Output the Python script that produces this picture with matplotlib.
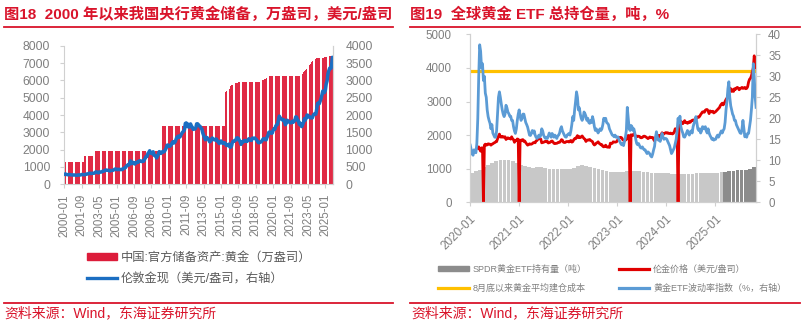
import numpy as np
import pandas as pd
import matplotlib
matplotlib.use("Agg")
import matplotlib.pyplot as plt
from matplotlib.patches import Patch
from matplotlib.lines import Line2D

plt.rcParams['font.family'] = ['Liberation Sans', 'Noto Sans CJK SC', 'DejaVu Sans']
plt.rcParams['axes.unicode_minus'] = False

nan = np.nan
RED = '#D9142B'
GRAY_TXT = '#7F7F7F'
SPINE = '#D0D0D0'

# ---------------------------------------------------------------------------
# 图18 data: monthly, 2000-01 .. 2025-09
# China official gold reserves (万盎司), as (level, number of months)
reserve_runs = [
    (1267, 23), (1608, 12), (1929, 76), (3389, 74),
    (5332, 1), (5393, 1), (5412, 1), (5445, 1), (5460, 1), (5482, 1), (5666, 1),
    (5719, 1), (5737, 1), (5782, 1), (5813, 1), (5862, 4), (5924, 1),
    (5924, 26),
    (5956, 1), (5994, 1), (6026, 1), (6062, 1), (6092, 1), (6111, 1), (6161, 1),
    (6194, 1), (6226, 1),
    (6264, 38),
    (6367, 1), (6464, 1), (6512, 1), (6592, 1), (6650, 1), (6676, 1), (6727, 1),
    (6795, 1), (6869, 1), (6962, 1), (7046, 1), (7120, 1), (7158, 1), (7187, 1),
    (7219, 1), (7258, 1), (7274, 1), (7280, 1),
    (7280, 6),
    (7296, 1), (7329, 1), (7345, 1), (7361, 1), (7370, 1), (7377, 1), (7383, 1),
    (7390, 1), (7396, 1), (7402, 1), (7406, 1),
]

# London spot gold, USD/oz, monthly
gold_monthly = [
    284, 300, 286, 280, 275, 285, 282, 274, 273, 270, 266, 272,
    266, 262, 263, 261, 272, 270, 268, 273, 283, 283, 276, 275,
    282, 296, 294, 302, 314, 322, 314, 310, 319, 317, 319, 333,
    357, 359, 340, 328, 355, 356, 351, 360, 379, 379, 389, 407,
    414, 405, 406, 404, 384, 392, 398, 400, 406, 420, 439, 442,
    424, 423, 434, 429, 422, 430, 424, 438, 456, 470, 476, 510,
    549, 555, 557, 610, 676, 596, 633, 632, 598, 586, 628, 629,
    631, 665, 655, 679, 667, 655, 665, 665, 712, 754, 806, 803,
    889, 922, 968, 909, 889, 889, 939, 839, 829, 806, 760, 816,
    858, 943, 924, 890, 928, 946, 934, 949, 996, 1043, 1127, 1135,
    1118, 1095, 1114, 1148, 1205, 1232, 1193, 1215, 1271, 1343, 1370, 1391,
    1357, 1372, 1424, 1474, 1511, 1529, 1573, 1756, 1772, 1666, 1738, 1652,
    1656, 1743, 1675, 1650, 1585, 1596, 1594, 1626, 1745, 1747, 1722, 1685,
    1671, 1627, 1593, 1487, 1414, 1343, 1286, 1352, 1349, 1316, 1275, 1225,
    1244, 1300, 1336, 1299, 1288, 1279, 1311, 1296, 1238, 1222, 1176, 1202,
    1251, 1227, 1179, 1198, 1199, 1181, 1128, 1118, 1125, 1159, 1086, 1068,
    1097, 1200, 1246, 1242, 1261, 1276, 1337, 1341, 1326, 1266, 1238, 1152,
    1192, 1234, 1231, 1266, 1246, 1260, 1237, 1283, 1315, 1279, 1282, 1265,
    1331, 1331, 1325, 1335, 1303, 1282, 1238, 1202, 1198, 1215, 1221, 1250,
    1292, 1320, 1301, 1286, 1284, 1359, 1413, 1500, 1511, 1495, 1471, 1480,
    1560, 1597, 1592, 1683, 1716, 1732, 1846, 1968, 1922, 1900, 1866, 1858,
    1867, 1808, 1718, 1760, 1850, 1834, 1807, 1785, 1775, 1777, 1821, 1790,
    1817, 1856, 1948, 1937, 1849, 1837, 1732, 1765, 1681, 1665, 1726, 1798,
    1898, 1855, 1912, 2000, 1992, 1943, 1951, 1918, 1916, 1916, 1985, 2026,
    2033, 2024, 2159, 2332, 2351, 2326, 2398, 2470, 2571, 2690, 2651, 2648,
    2709, 2895, 2984, 3194, 3279, 3352, 3340, 3368, 3665,
]

left_ticklabels = ['2000-01', '2001-09', '2003-05', '2005-01', '2006-09', '2008-05',
                   '2010-01', '2011-09', '2013-05', '2015-01', '2016-09', '2018-05',
                   '2020-01', '2021-09', '2023-05', '2025-01']

# ---------------------------------------------------------------------------
# 图19 data: weekly (Fridays) 2020-01-03 .. 2025-10-31
gold_weekly = [
    # 2020
    nan, nan, nan, nan, nan, nan, nan, nan, 1610, 1650, 1580, 1520, 1620,
    1620, 0, 1700, 1730, 1700, 1710, 1740, 1735, 1728, 1700, 1730, 1740, 1765,
    1775, 1800, 1805, 1890, 1970, 2030, 1945, 1940, 1965, 1935, 1945, 1950, 1870,
    1895, 1920, 1900, 1905, 1880, 1950, 1890, 1865, 1785, 1840, 1835, 1885, 1875,
    # 2021
    0, 1850, 1830, 1860, 1865, 1810, 1825, 1775, 1735, 1700, 1720, 1740, 1730,
    1730, 1745, 1775, 1780, 1770, 1830, 1840, 1880, 1900, 1890, 1880, 1770, 1780,
    1785, 1805, 1815, 1800, 1815, 1765, 1775, 1785, 1815, 1825, 1795, 1755, 1745,
    1755, 1755, 1770, 1790, 1785, 1815, 1865, 1850, 1790, 1780, 1780, 1805, 1810, 1805,
    # 2022
    1795, 1820, 1840, 1790, 1805, 1860, 1895, 1890, 1940, 1985, 1925, 1955,
    1925, 1945, 1975, 1935, 1895, 1880, 1810, 1845, 1855, 1850, 1870, 1840, 1825,
    1805, 1740, 1705, 1725, 1760, 1775, 1800, 1755, 1740, 1710, 1715, 1665, 1650, 1665,
    1700, 1650, 1640, 1645, 1635, 1760, 1750, 1755, 1800, 1795, 1790, 1795, 1810,
    # 2023
    1870, 1910, 1930, 1935, 1920, 1870, 1845, 1820, 1850, 1870, 1925, 1990, 1975,
    0, 2010, 1995, 1990, 2040, 2020, 1965, 1950, 1970, 1965, 1960, 1925, 1920,
    1930, 1960, 1970, 1960, 1940, 1920, 1895, 1915, 1945, 1925, 1930, 1930, 1870,
    1825, 1880, 1980, 1990, 1990, 1950, 1990, 2010, 2070, 2015, 2040, 2060, 2075,
    # 2024
    2060, 2070, 2050, 2045, 2060, 2045, 2035, 2050, 2100, 2190, 2180, 2185, 0,
    2320, 2400, 2410, 2360, 2340, 2390, 2430, 2370, 2380, 2350, 2370, 2400, 2380,
    2420, 2440, 2450, 2420, 2470, 2470, 2520, 2540, 2530, 2560, 2610, 2650, 2690,
    2690, 2680, 2740, 2760, 2760, 2720, 2640, 2720, 2700, 2690, 2710, 2660, 2680,
    # 2025
    2700, 2730, 2760, 2790, 2820, 2880, 2920, 2950, 2900, 2940, 3000, 3060, 3100,
    3150, 3300, 3400, 3380, 3300, 3350, 3300, 3380, 3360, 3400, 3420, 3400, 3350,
    3380, 3400, 3420, 3390, 3400, 3420, 3380, 3390, 3440, 3580, 3660, 3690, 3760,
    3880, 4000, 4360, 4150, 4000,
]

etf_vol_weekly = [
    # 2020
    13.6, 12.5, 11.5, 11.2, 12.5, 12.0, 11.8, 14.0, 20.0, 30.0, 37.5, 36.0, 32.0,
    33.0, 29.0, 30.0, 26.0, 25.0, 22.0, 20.4, 19.5, 18.8, 17.5, 18.5, 16.5, 16.0,
    15.5, 15.5, 17.0, 21.0, 25.0, 26.3, 25.0, 23.4, 22.0, 21.0, 20.4, 21.0, 23.1,
    22.5, 21.5, 21.1, 20.5, 20.5, 19.5, 19.5, 18.0, 17.0, 16.4, 17.5, 19.5, 21.0,
    # 2021
    22.0, 20.5, 19.5, 20.0, 21.0, 21.0, 20.0, 19.0, 18.5, 17.9, 17.0, 16.0, 15.9,
    16.5, 17.1, 16.5, 17.0, 16.0, 15.5, 15.2, 15.5, 16.0, 15.5, 16.0, 17.5, 17.0,
    16.0, 15.5, 15.2, 15.5, 15.2, 15.8, 16.5, 16.0, 15.5, 16.4, 16.0, 15.5, 16.0,
    15.6, 15.2, 15.8, 16.0, 16.5, 17.5, 18.0, 17.0, 16.5, 16.0, 15.6, 15.5, 16.0, 16.2,
    # 2022
    16.4, 16.0, 17.0, 18.5, 20.4, 19.5, 22.0, 24.0, 26.3, 25.0, 22.0, 22.5,
    21.0, 20.0, 19.5, 20.0, 21.5, 21.1, 20.5, 19.5, 20.0, 19.0, 18.8, 19.5, 19.0,
    20.4, 19.5, 18.0, 17.1, 17.5, 17.0, 16.5, 17.1, 17.5, 17.1, 17.5, 18.5, 20.0, 19.5,
    20.0, 19.0, 18.8, 18.5, 17.5, 17.0, 16.5, 16.0, 15.9, 15.6, 16.0, 15.5, 15.5,
    # 2023
    15.6, 15.0, 14.5, 14.0, 13.7, 14.0, 13.5, 14.5, 15.5, 17.1, 22.6, 20.0, 17.5,
    17.1, 18.3, 18.0, 17.1, 17.5, 16.5, 15.0, 14.0, 13.7, 14.0, 13.5, 13.0, 12.9,
    13.2, 12.8, 12.5, 12.5, 12.0, 11.6, 12.0, 11.8, 11.5, 11.0, 10.8, 11.5, 12.5,
    13.3, 15.5, 16.8, 15.5, 14.8, 15.0, 14.5, 15.5, 16.4, 15.5, 15.0, 15.2, 15.2,
    # 2024
    15.0, 14.5, 14.0, 13.5, 12.5, 11.6, 12.0, 12.5, 13.0, 14.0, 15.0, 17.0, 20.0,
    19.0, 20.5, 18.0, 17.1, 16.5, 15.6, 15.5, 16.0, 16.5, 17.1, 16.5, 16.0, 16.8,
    17.0, 16.5, 18.0, 18.8, 19.5, 20.4, 19.0, 17.5, 17.1, 17.5, 16.5, 17.0, 18.0,
    17.9, 17.5, 18.0, 17.0, 16.5, 17.5, 16.5, 15.9, 15.5, 15.0, 15.2, 14.8, 15.0,
    # 2025
    15.0, 15.6, 16.0, 15.5, 16.0, 16.5, 17.0, 16.5, 17.1, 17.5, 19.0, 22.0, 24.0,
    27.0, 28.7, 25.0, 23.0, 22.0, 21.0, 20.5, 19.5, 19.5, 18.5, 18.0, 17.5, 17.0,
    16.5, 16.4, 17.5, 19.5, 17.5, 15.6, 16.0, 15.5, 16.4, 16.4, 18.0, 19.5, 22.0,
    25.0, 33.0, 30.0, 25.0, 22.6,
]

# SPDR gold ETF holdings (tonnes), monthly 2020-01 .. 2025-10
spdr_monthly = [
    880, 920, 960, 1040, 1110, 1170, 1230, 1260, 1270, 1265, 1240, 1180,
    1120, 1080, 1040, 1030, 1040, 1040, 1020, 1000, 990, 985, 980, 980,
    1000, 1030, 1080, 1100, 1080, 1060, 1030, 990, 960, 930, 915, 910,
    915, 910, 920, 930, 935, 920, 910, 890, 880, 860, 870, 880,
    860, 840, 835, 830, 835, 840, 845, 860, 870, 870, 880, 875,
    880, 900, 910, 940, 930, 950, 950, 960, 990, 1040,
]

avg_cost_since_aug = 3915  # 8月底以来黄金平均建仓成本

right_tickdates = ['2020-01-01', '2021-01-01', '2022-01-01', '2023-01-01', '2024-01-01', '2025-01-01']
right_ticklabels = ['2020-01', '2021-01', '2022-01', '2023-01', '2024-01', '2025-01']

# ---------------------------------------------------------------------------
reserves = np.concatenate([np.full(n, v) for v, n in reserve_runs])
months = np.arange(len(gold_monthly))
assert len(reserves) == len(gold_monthly)

weeks = pd.date_range('2020-01-03', '2025-10-31', freq='W-FRI')
assert len(weeks) == len(gold_weekly) == len(etf_vol_weekly)
spdr_months = pd.date_range('2020-01-01', periods=len(spdr_monthly), freq='MS')

fig = plt.figure(figsize=(8.04, 3.27), dpi=100)
W, H = 804.0, 327.0


def fig_box(x0, y0, x1, y1):
    return [x0 / W, 1 - y1 / H, (x1 - x0) / W, (y1 - y0) / H]


# ---------------- left chart ----------------
ax1 = fig.add_axes(fig_box(64, 45.7, 333, 184.3))
ax1.bar(months, reserves, width=0.7, color='#E02A45', linewidth=0)
ax1.set_ylim(0, 8000)
ax1.set_yticks(np.arange(0, 8001, 1000))
ax1.set_xlim(-0.5, 308.8)
ax1.set_xticks(np.arange(0, len(months), 20))
ax1.set_xticklabels(left_ticklabels, rotation=90)

ax1r = ax1.twinx()
ax1r.plot(months, gold_monthly, color='#1B6EC2', lw=2.5, solid_capstyle='round')
ax1r.set_ylim(0, 4000)
ax1r.set_yticks(np.arange(0, 4001, 500))

for a in (ax1, ax1r):
    for s in a.spines.values():
        s.set_color(SPINE)
    a.spines['top'].set_visible(False)
ax1r.spines['left'].set_visible(False)
ax1r.spines['bottom'].set_visible(False)
ax1.tick_params(axis='y', length=3, color=SPINE, labelcolor=GRAY_TXT, labelsize=8.7, pad=7)
ax1.tick_params(axis='x', length=3, color=SPINE, labelcolor=GRAY_TXT, labelsize=8.3, pad=4)
ax1r.tick_params(axis='y', length=0, labelcolor=GRAY_TXT, labelsize=8.7, pad=9)

ax1.legend([Patch(color='#DC1C3A'), Line2D([], [], color='#1B6EC2', lw=2.4)],
           ['中国:官方储备资产:黄金（万盎司）', '伦敦金现（美元/盎司，右轴）'],
           loc='upper left', bbox_to_anchor=(86.7 / W, 1 - 251.5 / H),
           bbox_transform=fig.transFigure, frameon=False, fontsize=8.8,
           handlelength=2.45, handleheight=0.5, handletextpad=0.35,
           labelspacing=0.78, borderpad=0, borderaxespad=0, labelcolor='#595959')

# ---------------- right chart ----------------
ax2 = fig.add_axes(fig_box(470, 34.3, 755.7, 202.3))
spdr_colors = ['#8C8C8C' if d >= pd.Timestamp('2025-03-01') else '#C8C8C8' for d in spdr_months]
ax2.bar(spdr_months, spdr_monthly, width=27, align='edge', color=spdr_colors, linewidth=0)
ax2.axhline(avg_cost_since_aug, color='#FFC000', lw=2.3)
ax2.plot(weeks, gold_weekly, color='#E00000', lw=2.0)
ax2.set_ylim(0, 5000)
ax2.set_yticks(np.arange(0, 5001, 1000))
ax2.set_xlim(pd.Timestamp('2020-01-01'), pd.Timestamp('2025-10-28'))
ax2.set_xticks(pd.to_datetime(right_tickdates))
ax2.set_xticklabels(right_ticklabels, rotation=45, ha='right', rotation_mode='anchor')

ax2r = ax2.twinx()
ax2r.plot(weeks, etf_vol_weekly, color='#5B9BD5', lw=2.0)
ax2r.set_ylim(0, 40)
ax2r.set_yticks(np.arange(0, 41, 5))

for a in (ax2, ax2r):
    for s in a.spines.values():
        s.set_color(SPINE)
    a.spines['top'].set_visible(False)
ax2.tick_params(axis='y', length=3, color=SPINE, labelcolor=GRAY_TXT, labelsize=8.3, pad=10)
ax2.tick_params(axis='x', length=3, color=SPINE, labelcolor=GRAY_TXT, labelsize=8.5, pad=5)
ax2r.tick_params(axis='y', length=3, color=SPINE, labelcolor=GRAY_TXT, labelsize=8.3, pad=6)

ax2.legend([Patch(color='#8C8C8C'), Line2D([], [], color='#FFC000', lw=2.3),
            Line2D([], [], color='#E00000', lw=2.3), Line2D([], [], color='#5B9BD5', lw=2.3)],
           ['SPDR黄金ETF持有量（吨）', '8月底以来黄金平均建仓成本',
            '伦金价格（美元/盎司）', '黄金ETF波动率指数（%，右轴）'],
           ncol=2, loc='upper left', bbox_to_anchor=(438 / W, 1 - 264.5 / H),
           bbox_transform=fig.transFigure, frameon=False, fontsize=6.5,
           handlelength=3.4, handleheight=0.6, handletextpad=0.4,
           columnspacing=3.6, labelspacing=1.1, borderpad=0, borderaxespad=0,
           labelcolor='#7F7F7F')

# ---------------- titles / sources ----------------
fig.text(4 / W, 1 - 14 / H, '图18  2000 年以来我国央行黄金储备，万盎司，美元/盎司',
         color=RED, fontsize=11, fontweight='bold', va='center', ha='left')
fig.text(410 / W, 1 - 14 / H, '图19  全球黄金 ETF 总持仓量，吨，%',
         color=RED, fontsize=11, fontweight='bold', va='center', ha='left')
for x0, x1 in ((4, 393), (410, 800)):
    fig.add_artist(Line2D([x0 / W, x1 / W], [1 - 27 / H] * 2, color=RED, lw=1.3))
    fig.add_artist(Line2D([x0 / W, x1 / W], [1 - 302.7 / H] * 2, color=RED, lw=1.3))
fig.text(4 / W, 1 - 313 / H, '资料来源：Wind，东海证券研究所', color=RED, fontsize=10,
         va='center', ha='left')
fig.text(411 / W, 1 - 313 / H, '资料来源：Wind，东海证券研究所', color=RED, fontsize=10,
         va='center', ha='left')

fig.savefig('out.png', dpi=100)
